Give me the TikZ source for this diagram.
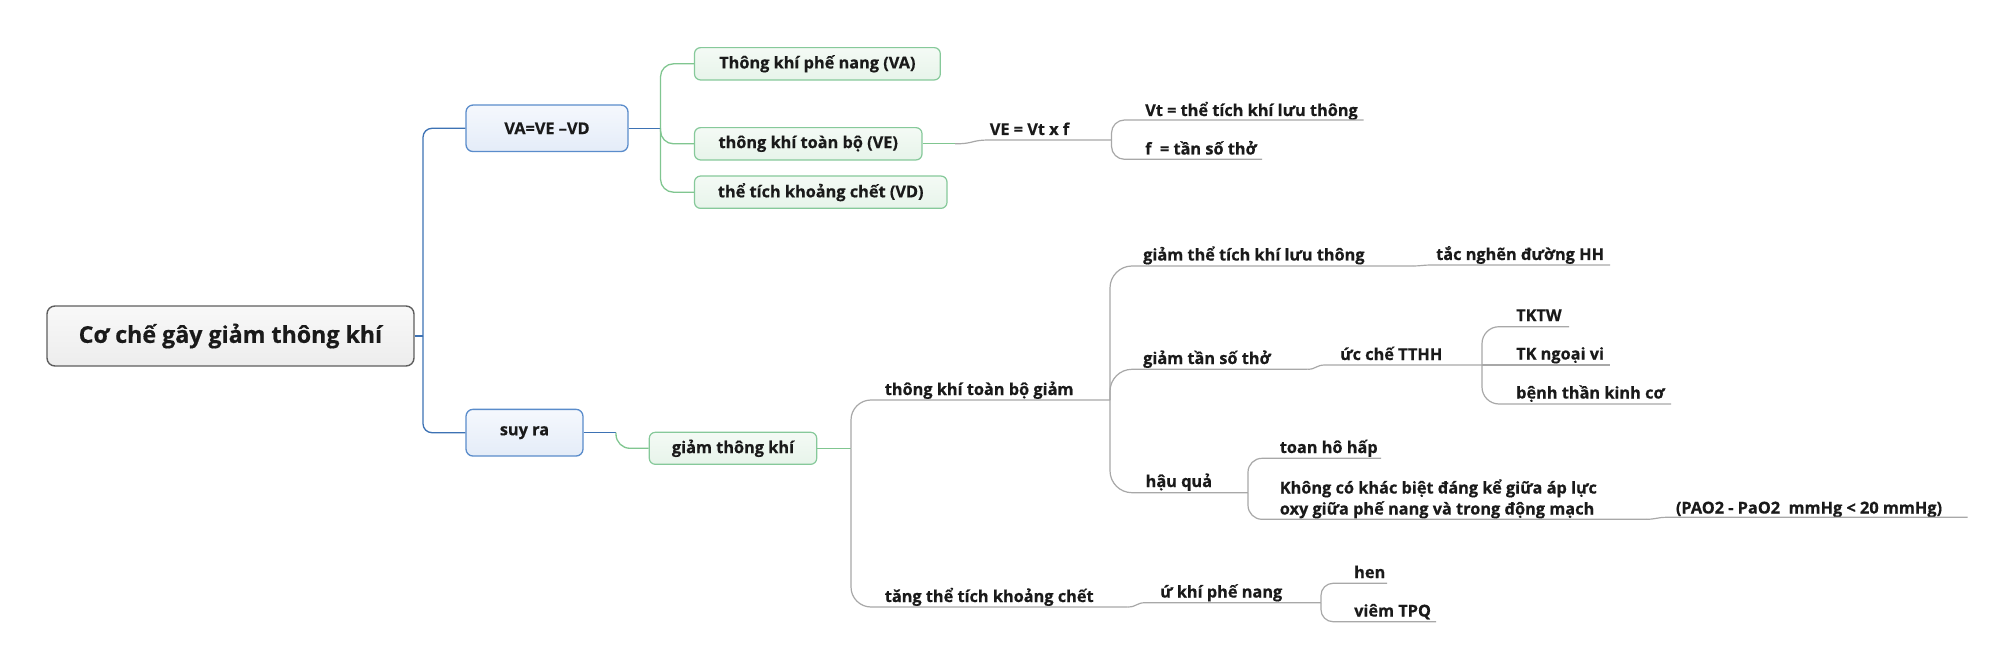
\documentclass[tikz,border=0pt]{standalone}
\usepackage{fontspec}
\setmainfont{Open Sans}[BoldFeatures={FakeBold=0.5}]
\newcommand\mmtext{\fontsize{16.3}{21}\selectfont\bfseries}
\newcommand\mmroot{\fontsize{23.2}{27}\selectfont\bfseries}
\definecolor{txtc}{HTML}{1A1A1A}
\definecolor{rootdraw}{HTML}{5E5E5E}
\definecolor{roottop}{HTML}{F8F8F8}
\definecolor{rootbot}{HTML}{EDEDED}
\definecolor{bluedraw}{HTML}{5A8CCB}
\definecolor{bluetop}{HTML}{F5F8FD}
\definecolor{bluebot}{HTML}{E4ECF8}
\definecolor{blueline}{HTML}{3D72B4}
\definecolor{greendraw}{HTML}{86C99A}
\definecolor{greentop}{HTML}{F4FAF5}
\definecolor{greenbot}{HTML}{E7F4EA}
\definecolor{greenline}{HTML}{80C690}
\definecolor{grayline}{HTML}{A8A8A8}
\tikzset{
  rootbox/.style={draw=rootdraw, line width=1.4pt, rounded corners=8pt, top color=roottop, bottom color=rootbot, text=txtc, font=\mmroot, inner sep=0pt},
  bluebox/.style={draw=bluedraw, line width=1.3pt, rounded corners=7pt, top color=bluetop, bottom color=bluebot, text=txtc, font=\mmtext, inner sep=0pt},
  greenbox/.style={draw=greendraw, line width=1.2pt, rounded corners=6pt, top color=greentop, bottom color=greenbot, text=txtc, font=\mmtext, inner sep=0pt},
  lbl/.style={anchor=base west, inner sep=0pt, text=txtc, font=\mmtext},
  bline/.style={draw=blueline, line width=1.3pt},
  gline/.style={draw=greenline, line width=1.3pt},
  uline/.style={draw=grayline, line width=1.2pt},
}
\begin{document}
\begin{tikzpicture}[x=1pt, y=-1pt]
\useasboundingbox (0,0) rectangle (2014,671);
\fill[white] (0,0) rectangle (2014,671);

% boxes
\node[rootbox, minimum width=367pt, minimum height=60pt] (root) at (230.5,336) {Cơ chế gây giảm thông khí};
\node[bluebox, minimum width=162pt, minimum height=46.5pt] (va) at (547,128.3) {VA=VE –VD};
\node[bluebox, minimum width=117pt, minimum height=46.7pt] (suy) at (524.5,432.7) {suy ra};
\node[greenbox, minimum width=245.8pt, minimum height=32.3pt] (g1) at (817.4,63.8) {Thông khí phế nang (VA)};
\node[greenbox, minimum width=227.5pt, minimum height=32.3pt] (g2) at (808.25,143.8) {thông khí toàn bộ (VE)};
\node[greenbox, minimum width=252.5pt, minimum height=32.3pt] (g3) at (820.75,192.2) {thể tích khoảng chết (VD)};
\node[greenbox, minimum width=167.4pt, minimum height=32pt] (g4) at (733,448.3) {giảm thông khí};

% free labels
\node[lbl] (ve) at (989.6,135) {VE = Vt x f};
\node[lbl] (vt) at (1145,116) {Vt = thể tích khí lưu thông};
\node[lbl] (f) at (1145,154.5) {f\ \ = tần số thở};
\node[lbl] (tkg) at (884.6,395) {thông khí toàn bộ giảm};
\node[lbl] (tang) at (884.6,602) {tăng thể tích khoảng chết};
\node[lbl] (gtt) at (1143,260.5) {giảm thể tích khí lưu thông};
\node[lbl] (tac) at (1436,260) {tắc nghẽn đường HH};
\node[lbl] (gts) at (1143,364) {giảm tần số thở};
\node[lbl] (uc) at (1340,360) {ức chế TTHH};
\node[lbl] (tktw) at (1516,321) {TKTW};
\node[lbl] (tknv) at (1516,359.5) {TK ngoại vi};
\node[lbl] (benh) at (1516,398.5) {bệnh thần kinh cơ};
\node[lbl] (hq) at (1145.5,487) {hậu quả};
\node[lbl] (toan) at (1279.6,453) {toan hô hấp};
\node[lbl, align=left] (khong) at (1279.6,514.5) {Không có khác biệt đáng kể giữa áp lực\\oxy giữa phế nang và trong động mạch};
\node[lbl] (pao) at (1675.7,513.5) {(PAO2 - PaO2\ \ mmHg < 20 mmHg)};
\node[lbl] (uk) at (1160,597.5) {ứ khí phế nang};
\node[lbl] (hen) at (1354,578) {hen};
\node[lbl] (viem) at (1354,616.5) {viêm TPQ};

% junction coordinates
\coordinate (bt) at (423,336);
\coordinate (gt1) at (660.5,128.3);
\coordinate (ves) at (955,143.8);
\coordinate (vej) at (1111.5,140);
\coordinate (sb) at (616,432.7);
\coordinate (gt2) at (851,448.3);
\coordinate (t3) at (1110,400);
\coordinate (t4) at (1482,365);
\coordinate (t5) at (1248,492.7);
\coordinate (t6) at (1321,602.7);

% blue connectors
\draw[bline] (root.east) -- (bt);
\draw[bline, rounded corners=9pt] (bt) |- (va.west);
\draw[bline, rounded corners=9pt] (bt) |- (suy.west);
\draw[bline] (va.east) -- (gt1);
\draw[bline] (suy.east) -- (sb);

% green connectors
\draw[gline, rounded corners=13pt] (gt1) |- (g1.west);
\draw[gline, rounded corners=13pt] (gt1) |- (g2.west);
\draw[gline, rounded corners=13pt] (gt1) |- (g3.west);
\draw[gline] (g2.east) -- (ves);
\draw[gline, rounded corners=14pt] (sb) |- (g4.west);
\draw[gline] (g4.east) -- (gt2);

% gray connectors and underlines
\draw[uline] (ves) .. controls (975,143.8) and (970,140) .. (990,140) -- (vej);
\draw[uline, rounded corners=13pt] (vej) |- (1363.6,120);
\draw[uline, rounded corners=13pt] (vej) |- (1262,159.3);

\draw[uline, rounded corners=20pt] (gt2) |- (t3);
\draw[uline, rounded corners=20pt] (gt2) |- (1127.7,607);
\draw[uline] (1127.7,607) .. controls (1137,607) and (1136,602.7) .. (1145.5,602.7) -- (t6);

\draw[uline, rounded corners=22pt] (t3) |- (1413,266);
\draw[uline] (1413,266) .. controls (1420,266) and (1424,265) .. (1431,265) -- (1610,265);
\draw[uline, rounded corners=22pt] (t3) |- (1307.7,369.3);
\draw[uline] (1307.7,369.3) .. controls (1316,369.3) and (1316,365) .. (1325,365) -- (t4);
\draw[uline, rounded corners=22pt] (t3) |- (t5);

\draw[uline, rounded corners=17pt] (t4) |- (1569,326.7);
\draw[uline] (t4) -- (1610,365);
\draw[uline, rounded corners=17pt] (t4) |- (1671,404);

\draw[uline, rounded corners=14pt] (t5) |- (1381,458.3);
\draw[uline, rounded corners=14pt] (t5) |- (1646,519.3);
\draw[uline] (1646,519.3) .. controls (1656,519.3) and (1657,517.3) .. (1667,517.3) -- (1967.6,517.3);

\draw[uline, rounded corners=12pt] (t6) |- (1387,583.3);
\draw[uline, rounded corners=12pt] (t6) |- (1436,621.7);
\end{tikzpicture}
\end{document}
